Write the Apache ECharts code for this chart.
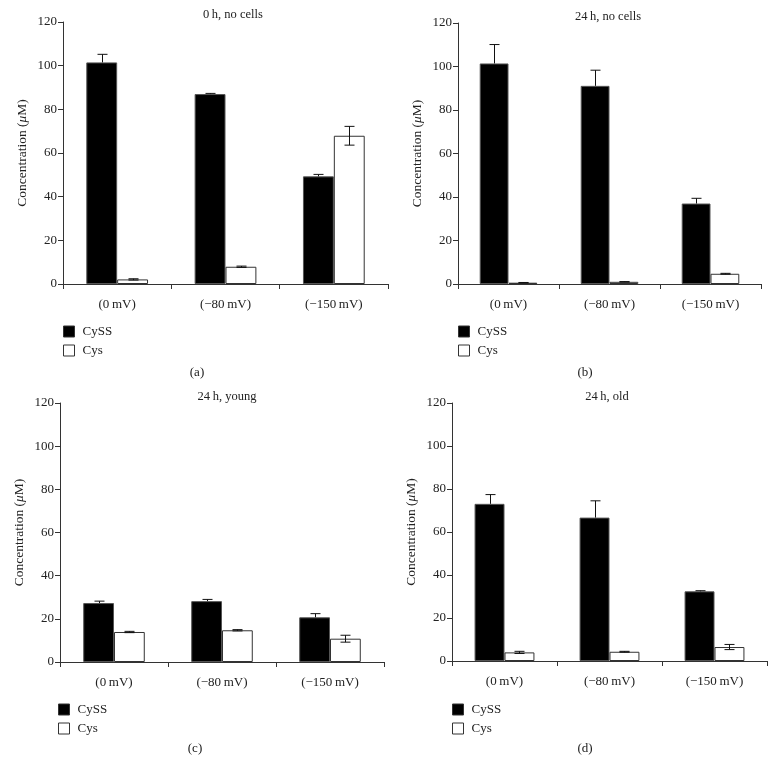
<!DOCTYPE html>
<html><head><meta charset="utf-8">
<script src="https://cdn.jsdelivr.net/npm/echarts@6/dist/echarts.min.js"></script>
<style>html,body{margin:0;padding:0;background:#fff}#c{width:775px;height:775px}</style>
</head><body><div id="c"></div>
<script>
const categories = ['(0\u2009mV)', '(\u221280\u2009mV)', '(\u2212150\u2009mV)'];
const yTicks = [0, 20, 40, 60, 80, 100, 120];
const seriesNames = ['CySS', 'Cys'];
const panelTitles = ['0\u2009h, no cells', '24\u2009h, no cells', '24\u2009h, young', '24\u2009h, old'];
const panelLetters = ['(a)', '(b)', '(c)', '(d)'];

// (a) 0 h, no cells
const a_cyss = [101.5, 87.0, 49.3];
const a_cyss_err = [3.7, 0.3, 0.9];
const a_cys = [2.1, 7.9, 67.9];
const a_cys_err = [0.3, 0.3, 4.3];
// (b) 24 h, no cells
const b_cyss = [101.4, 91.1, 37.0];
const b_cyss_err = [8.7, 7.2, 2.4];
const b_cys = [0.6, 1.0, 4.7];
const b_cys_err = [0.1, 0.1, 0.2];
// (c) 24 h, young
const c_cyss = [27.3, 28.2, 20.7];
const c_cyss_err = [0.9, 0.8, 1.7];
const c_cys = [13.9, 14.7, 10.8];
const c_cys_err = [0.3, 0.3, 1.6];
// (d) 24 h, old
const d_cyss = [73.1, 66.7, 32.4];
const d_cyss_err = [4.3, 7.8, 0.3];
const d_cys = [4.0, 4.3, 6.5];
const d_cys_err = [0.5, 0.2, 1.2];

const panels = [
  {cyss: a_cyss, cyssErr: a_cyss_err, cys: a_cys, cysErr: a_cys_err},
  {cyss: b_cyss, cyssErr: b_cyss_err, cys: b_cys, cysErr: b_cys_err},
  {cyss: c_cyss, cyssErr: c_cyss_err, cys: c_cys, cysErr: c_cys_err},
  {cyss: d_cyss, cyssErr: d_cyss_err, cys: d_cys, cysErr: d_cys_err}
];

// layout
const grids = [
  {left: 63, top: 22, width: 325, height: 262},
  {left: 458, top: 23, width: 303, height: 261},
  {left: 60, top: 403, width: 324, height: 259},
  {left: 452, top: 403, width: 315, height: 258}
];
const titlePos = [[233, 15], [608, 17], [227, 397], [607, 397]];
const letterPos = [[197, 373], [585, 373], [195, 749], [585, 749]];
const legendPos = [[63, 325], [458, 325], [58, 703], [452, 703]];
const BW = 0.285;
const FONT = '"Liberation Serif", "DejaVu Serif", serif';
const TXT = '#222';
const AX = '#333';

const option = {
  animation: false,
  backgroundColor: '#fff',
  textStyle: {fontFamily: FONT},
  grid: grids.map(g => Object.assign({containLabel: false}, g)),
  xAxis: grids.map((g, i) => ({
    type: 'category', gridIndex: i, data: categories,
    axisLine: {lineStyle: {color: AX, width: 1}},
    axisTick: {show: true, length: 5, lineStyle: {color: AX}},
    axisLabel: {fontFamily: FONT, fontSize: 13, color: TXT, margin: 14}
  })),
  yAxis: grids.map((g, i) => ({
    type: 'value', gridIndex: i, min: 0, max: 120, interval: 20,
    splitLine: {show: false},
    axisLine: {show: true, lineStyle: {color: AX, width: 1}},
    axisTick: {show: true, length: 5, lineStyle: {color: AX}},
    axisLabel: {fontFamily: FONT, fontSize: 13, color: TXT, margin: 6,
      formatter: v => yTicks.indexOf(v) >= 0 ? String(v) : ''},
    name: '{a|Concentration (}{i|\u03bc}{a|M)}',
    nameLocation: 'middle', nameRotate: 90, nameGap: 34,
    nameTextStyle: {rich: {
      a: {fontFamily: FONT, fontSize: 13.5, color: TXT},
      i: {fontFamily: FONT, fontSize: 13.5, color: TXT, fontStyle: 'italic'}
    }}
  })),
  legend: legendPos.map(p => ({
    data: seriesNames, orient: 'vertical', left: p[0], top: p[1],
    itemWidth: 11, itemHeight: 11, itemGap: 6, icon: 'rect',
    selectedMode: false,
    itemStyle: {borderWidth: 1, borderColor: '#333'},
    textStyle: {fontFamily: FONT, fontSize: 13, color: TXT, padding: [0, 0, 0, 3]},
    padding: 0
  })),
  graphic: [].concat(
    titlePos.map((p, i) => ({type: 'text', x: p[0], y: p[1],
      style: {text: panelTitles[i], font: '12.5px ' + FONT, fill: TXT, textAlign: 'center', textVerticalAlign: 'middle'}})),
    letterPos.map((p, i) => ({type: 'text', x: p[0], y: p[1],
      style: {text: panelLetters[i], font: '13px ' + FONT, fill: TXT, textAlign: 'center', textVerticalAlign: 'middle'}}))
  ),
  series: []
};

function errRender(params, api) {
  const x = api.value(0), v = api.value(1), e = api.value(2), side = api.value(3);
  const c = api.coord([x, v]);
  const band = api.size([1, 0])[0];
  const w = band * BW;
  const cx = Math.round(c[0] + (side === 0 ? -w / 2 : w / 2)) + 0.5;
  const top = api.coord([x, v + e])[1];
  const cap = 5;
  const st = {stroke: '#111', lineWidth: 1};
  const children = [
    {type: 'line', shape: {x1: cx - cap, y1: top, x2: cx + cap, y2: top}, style: st}
  ];
  if (side === 0) {
    // dark bar: only the upper whisker is visible
    children.push({type: 'line', shape: {x1: cx, y1: top, x2: cx, y2: c[1]}, style: st});
  } else {
    const bot = api.coord([x, Math.max(0, v - e)])[1];
    children.push({type: 'line', shape: {x1: cx, y1: top, x2: cx, y2: bot}, style: st});
    children.push({type: 'line', shape: {x1: cx - cap, y1: bot, x2: cx + cap, y2: bot}, style: st});
  }
  return {type: 'group', children: children};
}

panels.forEach((p, i) => {
  option.series.push({
    name: 'CySS', type: 'bar', xAxisIndex: i, yAxisIndex: i, data: p.cyss,
    barWidth: (BW * 100) + '%', barGap: '0%',
    itemStyle: {color: '#000', borderColor: '#555', borderWidth: 1}
  });
  option.series.push({
    name: 'Cys', type: 'bar', xAxisIndex: i, yAxisIndex: i, data: p.cys,
    barWidth: (BW * 100) + '%', barGap: '0%',
    itemStyle: {color: '#fff', borderColor: '#333', borderWidth: 1}
  });
  const errData = [];
  p.cyss.forEach((v, k) => errData.push([k, v, p.cyssErr[k], 0]));
  p.cys.forEach((v, k) => errData.push([k, v, p.cysErr[k], 1]));
  option.series.push({
    type: 'custom', xAxisIndex: i, yAxisIndex: i, z: 5,
    renderItem: errRender, data: errData,
    encode: {x: 0, y: 1}, silent: true
  });
});

const chart = echarts.init(document.getElementById('c'), null, {renderer: 'canvas'});
chart.setOption(option);
</script></body></html>
